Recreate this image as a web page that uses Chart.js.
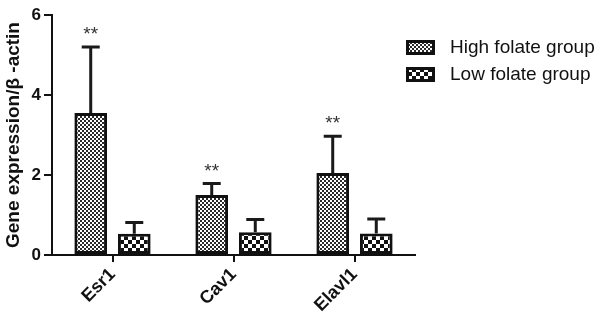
<!DOCTYPE html>
<html>
<head>
<meta charset="utf-8">
<script src="https://cdn.jsdelivr.net/npm/chart.js@4/dist/chart.umd.min.js"></script>
<style>
  html, body { margin: 0; padding: 0; background: #fff; }
  #wrap { width: 600px; height: 318px; }
</style>
</head>
<body>
<div id="wrap"><canvas id="chart" width="600" height="318"></canvas></div>
<script>
const categories = ["Esr1", "Cav1", "Elavl1"];
const seriesNames = ["High folate group", "Low folate group"];
const highValues = [3.55, 1.5, 2.05];
const highErrors = [1.65, 0.29, 0.92];
const lowValues = [0.53, 0.57, 0.54];
const lowErrors = [0.28, 0.32, 0.36];
const highMarks = ["**", "**", "**"];
const lowMarks = ["", "", ""];
const yTicks = [0, 2, 4, 6];

const FONT = "'Liberation Sans', Arial, sans-serif";

// fill patterns for the two groups
function makePattern(size, cell, ink) {
	const c = document.createElement("canvas");
	c.width = size;
	c.height = size;
	const g = c.getContext("2d");
	g.fillStyle = "#fff";
	g.fillRect(0, 0, size, size);
	g.fillStyle = ink;
	for (let y = 0; y < size; y += cell) {
		for (let x = 0; x < size; x += cell) {
			if (((x + y) / cell) % 2 === 0) g.fillRect(x, y, cell, cell);
		}
	}
	return g.createPattern(c, "repeat");
}
const finePattern = makePattern(4, 2, "#2a2a2a");
const coarsePattern = makePattern(8, 4, "#111");

const errorBars = {
	id: "errorBars",
	afterDatasetsDraw(chart) {
		const ctx = chart.ctx;
		const yScale = chart.scales.y;
		chart.data.datasets.forEach((ds, i) => {
			const meta = chart.getDatasetMeta(i);
			meta.data.forEach((bar, j) => {
				const top = yScale.getPixelForValue(ds.data[j] + ds.errors[j]);
				ctx.save();
				ctx.strokeStyle = "#1a1a1a";
				ctx.lineWidth = 3;
				ctx.beginPath();
				ctx.moveTo(bar.x, bar.y);
				ctx.lineTo(bar.x, top);
				ctx.moveTo(bar.x - 9, top);
				ctx.lineTo(bar.x + 9, top);
				ctx.stroke();
				if (ds.marks[j]) {
					ctx.fillStyle = "#333";
					ctx.font = "19px " + FONT;
					ctx.textAlign = "center";
					ctx.textBaseline = "middle";
					ctx.fillText(ds.marks[j], bar.x, top - 12);
				}
				ctx.restore();
			});
		});
	}
};

const sideLegend = {
	id: "sideLegend",
	afterDraw(chart) {
		const ctx = chart.ctx;
		chart.data.datasets.forEach((ds, i) => {
			const y = 40 + i * 27;
			ctx.save();
			ctx.fillStyle = ds.backgroundColor;
			ctx.fillRect(406, y, 29, 15);
			ctx.strokeStyle = "#111";
			ctx.lineWidth = 3;
			ctx.strokeRect(407.5, y + 1.5, 26, 12);
			ctx.fillStyle = "#111";
			ctx.font = "19px " + FONT;
			ctx.textBaseline = "middle";
			ctx.fillText(ds.label, 450, y + 8);
			ctx.restore();
		});
	}
};

new Chart(document.getElementById("chart"), {
	type: "bar",
	data: {
		labels: categories,
		datasets: [
			{
				label: seriesNames[0],
				data: highValues,
				errors: highErrors,
				marks: highMarks,
				backgroundColor: finePattern,
				borderColor: "#111",
				borderWidth: 3,
				borderSkipped: false,
			},
			{
				label: seriesNames[1],
				data: lowValues,
				errors: lowErrors,
				marks: lowMarks,
				backgroundColor: coarsePattern,
				borderColor: "#111",
				borderWidth: 3,
				borderSkipped: false,
			},
		],
	},
	options: {
		responsive: false,
		animation: false,
		categoryPercentage: 0.72,
		barPercentage: 0.75,
		layout: { padding: { top: 15, right: 185, left: 0, bottom: 0 } },
		plugins: {
			legend: { display: false },
			tooltip: { enabled: false },
		},
		scales: {
			x: {
				grid: { display: true, drawOnChartArea: false, offset: false, color: "#111", lineWidth: 2, tickLength: 7 },
				border: { color: "#111", width: 2 },
				ticks: {
					color: "#111",
					font: { family: FONT, size: 18, weight: "bold" },
					maxRotation: 45,
					minRotation: 45,
					padding: 2,
				},
				afterFit(scale) { scale.height = 63; },
			},
			y: {
				min: 0,
				max: 6,
				afterBuildTicks(scale) { scale.ticks = yTicks.map((v) => ({ value: v })); },
				grid: { display: true, drawOnChartArea: false, color: "#111", lineWidth: 2, tickLength: 8 },
				border: { color: "#111", width: 2 },
				ticks: {
					color: "#111",
					font: { family: FONT, size: 17, weight: "bold" },
					padding: 3,
				},
				title: {
					display: true,
					text: "Gene expression/β -actin",
					color: "#111",
					font: { family: FONT, size: 19, weight: "bold" },
					padding: { top: 2, bottom: 2 },
				},
				afterFit(scale) { scale.width = 52; },
			},
		},
	},
	plugins: [errorBars, sideLegend],
});
</script>
</body>
</html>
